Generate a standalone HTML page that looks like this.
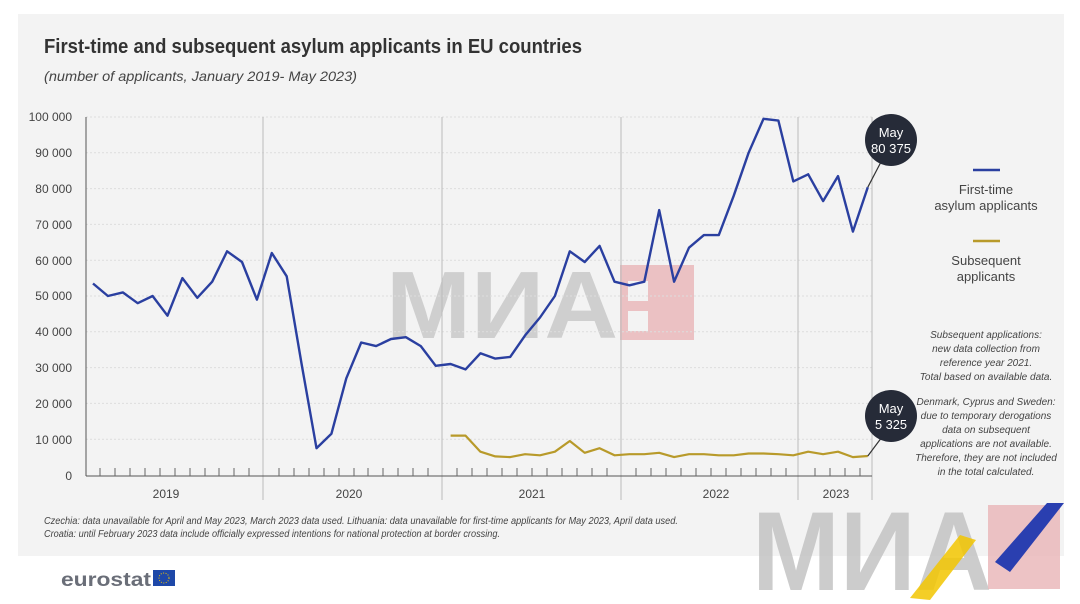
<!DOCTYPE html>
<html><head><meta charset="utf-8"><style>
html,body{margin:0;padding:0;background:#fff;}
body{width:1080px;height:604px;overflow:hidden;position:relative;font-family:"Liberation Sans",sans-serif;}
</style></head><body>
<svg width="1080" height="604" xmlns="http://www.w3.org/2000/svg" style="position:absolute;left:0;top:0" font-family="Liberation Sans, sans-serif">
<rect x="18" y="14" width="1046" height="542" fill="#f3f3f3"/>
<text x="44" y="53" font-weight="bold" font-size="20" fill="#333" textLength="538" lengthAdjust="spacingAndGlyphs">First-time and subsequent asylum applicants in EU countries</text>
<text x="44" y="81" font-style="italic" font-size="14" fill="#444" textLength="313" lengthAdjust="spacingAndGlyphs">(number of applicants, January 2019- May 2023)</text>
<text x="386" y="338" font-weight="bold" font-size="96" fill="#c9c9c9" opacity="0.85" textLength="232" lengthAdjust="spacingAndGlyphs">МИА</text>
<rect x="620" y="265" width="74" height="75" fill="#e8b4b6" opacity="0.8"/>
<rect x="628" y="281" width="20" height="20" fill="#f3f3f3"/><rect x="628" y="311" width="20" height="20" fill="#f3f3f3"/>
<g stroke="#ddd" stroke-dasharray="2,2" stroke-width="1">
<line x1="86" x2="872" y1="439.2" y2="439.2"/><line x1="86" x2="872" y1="403.4" y2="403.4"/><line x1="86" x2="872" y1="367.6" y2="367.6"/><line x1="86" x2="872" y1="331.8" y2="331.8"/><line x1="86" x2="872" y1="296" y2="296"/><line x1="86" x2="872" y1="260.2" y2="260.2"/><line x1="86" x2="872" y1="224.4" y2="224.4"/><line x1="86" x2="872" y1="188.6" y2="188.6"/><line x1="86" x2="872" y1="152.8" y2="152.8"/><line x1="86" x2="872" y1="117" y2="117"/>
</g>
<g stroke="#bbb" stroke-width="1"><line x1="263" x2="263" y1="117" y2="500"/><line x1="442" x2="442" y1="117" y2="500"/><line x1="621" x2="621" y1="117" y2="500"/><line x1="798" x2="798" y1="117" y2="500"/><line x1="872" x2="872" y1="117" y2="500"/></g>
<line x1="86" x2="86" y1="117" y2="476" stroke="#555"/>
<line x1="86" x2="872" y1="476" y2="476" stroke="#555"/>
<g stroke="#666" stroke-width="1">
<path d="M100 468v8M115 468v8M130 468v8M145 468v8M160 468v8M175 468v8M190 468v8M205 468v8M219 468v8M234 468v8M249 468v8M279 468v8M294 468v8M309 468v8M324 468v8M339 468v8M354 468v8M368 468v8M383 468v8M398 468v8M413 468v8M428 468v8M457 468v8M472 468v8M487 468v8M502 468v8M517 468v8M532 468v8M547 468v8M562 468v8M577 468v8M592 468v8M607 468v8M636 468v8M651 468v8M666 468v8M681 468v8M696 468v8M711 468v8M726 468v8M741 468v8M756 468v8M771 468v8M786 468v8M815 468v8M830 468v8M845 468v8M860 468v8"/>
</g>
<g font-size="12" fill="#444" text-anchor="end">
<text x="72" y="480">0</text><text x="72" y="444">10 000</text><text x="72" y="408">20 000</text><text x="72" y="372">30 000</text><text x="72" y="336">40 000</text><text x="72" y="300">50 000</text><text x="72" y="265">60 000</text><text x="72" y="229">70 000</text><text x="72" y="193">80 000</text><text x="72" y="157">90 000</text><text x="72" y="121">100 000</text>
</g>
<g font-size="12" fill="#444" text-anchor="middle">
<text x="166" y="498">2019</text><text x="349" y="498">2020</text><text x="532" y="498">2021</text><text x="716" y="498">2022</text><text x="836" y="498">2023</text>
</g>
<polyline fill="none" stroke="#2a3fa0" stroke-width="2.4" stroke-linejoin="round" points="93,283.5 107.9,296 122.8,292.4 137.7,303.2 152.6,296 167.5,315.7 182.4,278.1 197.3,297.8 212.2,281.7 227.1,251.3 242,262 256.9,299.6 271.8,253 286.7,276.3 301.6,364 316.5,448.2 331.4,433.8 346.3,378.3 361.2,342.5 376.1,346.1 391,339 405.9,337.2 420.8,346.1 435.7,365.8 450.6,364 465.5,369.4 480.4,353.3 495.3,358.6 510.2,356.9 525.1,335.4 540,317.5 554.9,296 569.8,251.3 584.7,262 599.6,245.9 614.5,281.7 629.4,285.3 644.3,281.7 659.2,210.1 674.1,281.7 689,247.7 703.9,235.1 718.8,235.1 733.7,195.8 748.6,152.8 763.5,118.8 778.4,120.6 793.3,181.4 808.2,174.3 823.1,201.1 838,176.1 852.9,231.6 867.8,187.2"/>
<polyline fill="none" stroke="#b89a2a" stroke-width="2.2" stroke-linejoin="round" points="450.6,435.6 465.5,435.6 480.4,451.7 495.3,456.4 510.2,457.1 525.1,454.2 540,455.3 554.9,451.7 569.8,441 584.7,452.8 599.6,448.2 614.5,455.3 629.4,454.2 644.3,454.2 659.2,452.8 674.1,457.1 689,454.2 703.9,454.2 718.8,455.3 733.7,455.3 748.6,453.5 763.5,453.5 778.4,454.2 793.3,455.3 808.2,451.7 823.1,454.2 838,451.7 852.9,457.1 867.8,456"/>
<line x1="867.8" y1="187.2" x2="882" y2="160" stroke="#333" stroke-width="1.2"/>
<line x1="867.8" y1="456" x2="882" y2="437" stroke="#333" stroke-width="1.2"/>
<circle cx="891" cy="140" r="26" fill="#262b38"/>
<circle cx="891" cy="416" r="26" fill="#262b38"/>
<g fill="#fff" font-size="13" text-anchor="middle"><text x="891" y="137">May</text><text x="891" y="153" textLength="40" lengthAdjust="spacingAndGlyphs">80 375</text><text x="891" y="413">May</text><text x="891" y="429" textLength="32" lengthAdjust="spacingAndGlyphs">5 325</text></g>
<line x1="973" x2="1000" y1="170" y2="170" stroke="#2a3fa0" stroke-width="2.5"/>
<line x1="973" x2="1000" y1="241" y2="241" stroke="#b89a2a" stroke-width="2.5"/>
<g font-size="13" fill="#444" text-anchor="middle"><text x="986" y="194">First-time</text><text x="986" y="210">asylum applicants</text><text x="986" y="265">Subsequent</text><text x="986" y="281">applicants</text></g>
<g font-size="10" font-style="italic" fill="#444" text-anchor="middle">
<text x="986" y="338">Subsequent applications:</text><text x="986" y="352">new data collection from</text><text x="986" y="366">reference year 2021.</text><text x="986" y="380">Total based on available data.</text>
<text x="986" y="405">Denmark, Cyprus and Sweden:</text><text x="986" y="419">due to temporary derogations</text><text x="986" y="433">data on subsequent</text><text x="986" y="447">applications are not available.</text><text x="986" y="461">Therefore, they are not included</text><text x="986" y="475">in the total calculated.</text>
</g>
<g font-size="10" font-style="italic" fill="#444">
<text x="44" y="524" textLength="634" lengthAdjust="spacingAndGlyphs">Czechia: data unavailable for April and May 2023, March 2023 data used. Lithuania: data unavailable for first-time applicants for May 2023, April data used.</text>
<text x="44" y="537" textLength="456" lengthAdjust="spacingAndGlyphs">Croatia: until February 2023 data include officially expressed intentions for national protection at border crossing.</text>
</g>
<text x="61" y="586" font-size="19" fill="#6a6e78" font-weight="bold" textLength="90" lengthAdjust="spacingAndGlyphs">eurostat</text>
<rect x="153" y="570" width="22" height="16" fill="#1e48a8"/>
<circle cx="164" cy="578" r="5" fill="none" stroke="#f2c500" stroke-width="1" stroke-dasharray="1,1.5"/>
<text x="752" y="590" font-weight="bold" font-size="112" fill="#c4c4c4" opacity="0.85" textLength="240" lengthAdjust="spacingAndGlyphs">МИА</text>
<rect x="988" y="505" width="72" height="84" fill="#e8b4b6" opacity="0.8"/>
<polygon points="1047,503 1064,503 1010,572 995,562" fill="#2a3fb0"/>
<polygon points="960,535 976,540 930,600 910,598" fill="#f2c500" opacity="0.85"/>
</svg>
</body></html>
